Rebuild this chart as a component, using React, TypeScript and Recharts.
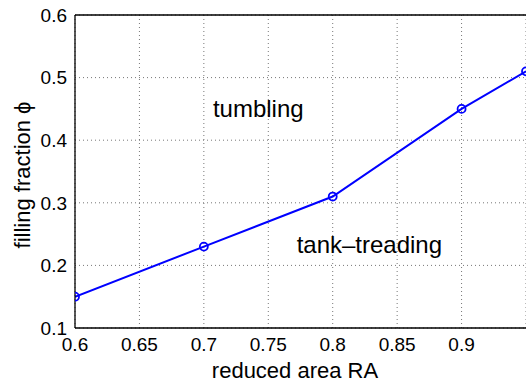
import React from 'react';
import { LineChart, Line, XAxis, YAxis, CartesianGrid, ReferenceLine, ReferenceDot } from 'recharts';

const reducedArea = [0.6, 0.7, 0.8, 0.9, 0.95];
const fillingFraction = [0.15, 0.23, 0.31, 0.45, 0.51];
const xTicks = [0.6, 0.65, 0.7, 0.75, 0.8, 0.85, 0.9];
const yTicks = [0.1, 0.2, 0.3, 0.4, 0.5, 0.6];

const data = reducedArea.map((ra, i) => ({ ra, phi: fillingFraction[i] }));

const FONT = '"Liberation Sans", Arial, Helvetica, sans-serif';

const textAt = (value: string) => ({ viewBox }: any) => (
    <text x={viewBox.x + viewBox.width / 2} y={viewBox.y + viewBox.height / 2}
        fontFamily={FONT} fontSize={24} fill="#000" textAnchor="start">
        {value}
    </text>
);

const xTitle = ({ viewBox }: any) => (
    <text x={295} y={viewBox.y + viewBox.height - 4} fontFamily={FONT} fontSize={22}
        fill="#000" textAnchor="middle">
        reduced area RA
    </text>
);

const yTitle = () => (
    <text x={0} y={0} transform="translate(22,175) rotate(-90)" fontFamily={FONT} fontSize={22}
        fill="#000" textAnchor="middle" dominantBaseline="central">
        filling fraction ϕ
    </text>
);

export default function App() {
    return (
        <div style={{ position: 'absolute', left: 0, top: 0 }}>
            <LineChart width={526} height={382} data={data}
                margin={{ top: 15, right: 0, bottom: 0, left: 0 }}>
                <CartesianGrid stroke="#777" strokeDasharray="1 3" />
                <XAxis dataKey="ra" type="number" domain={[0.6, 0.95]} ticks={xTicks}
                    allowDataOverflow height={54} tickLine={false} tickSize={6} tickMargin={4}
                    axisLine={{ stroke: '#000', strokeWidth: 1.3 }}
                    tick={{ fill: '#000', fontSize: 19, fontFamily: FONT }}
                    label={{ content: xTitle }} />
                <YAxis type="number" domain={[0.1, 0.6]} ticks={yTicks} width={75}
                    tickLine={false} tickSize={6} tickMargin={2}
                    axisLine={{ stroke: '#000', strokeWidth: 1.3 }}
                    tick={{ fill: '#000', fontSize: 19, fontFamily: FONT }}
                    label={{ content: yTitle }} />
                <ReferenceLine y={0.6} stroke="#000" strokeWidth={1.3} />
                <ReferenceDot x={0.707} y={0.437} r={1} fill="none" stroke="none"
                    label={{ content: textAt('tumbling') }} />
                <ReferenceDot x={0.772} y={0.22} r={1} fill="none" stroke="none"
                    label={{ content: textAt('tank–treading') }} />
                <Line type="linear" dataKey="phi" stroke="#0000ff" strokeWidth={2}
                    dot={{ r: 4, stroke: '#0000ff', strokeWidth: 1.8, fill: 'none' }}
                    isAnimationActive={false} />
            </LineChart>
        </div>
    );
}
